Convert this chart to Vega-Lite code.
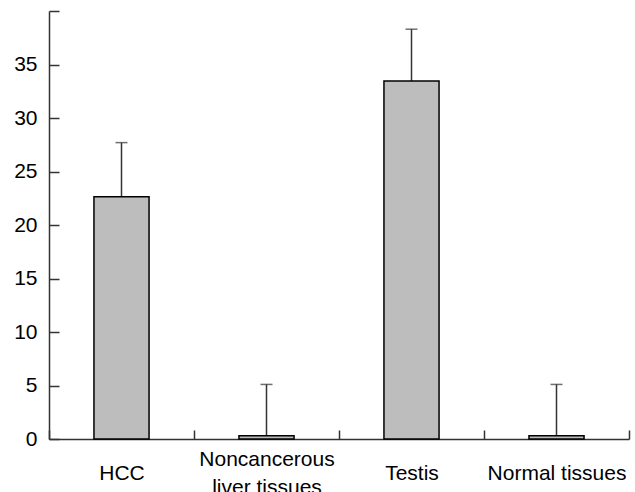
{
  "$schema": "https://vega.github.io/schema/vega-lite/v6.json",
  "width": 580,
  "height": 428,
  "autosize": {"type": "none"},
  "padding": {"left": 49, "top": 11, "right": 6, "bottom": 53},
  "background": "white",
  "config": {
    "view": {"stroke": null},
    "font": "Liberation Sans",
    "axisY": {
      "title": null, "grid": false, "values": [0, 5, 10, 15, 20, 25, 30, 35, 40],
      "labelExpr": "datum.value == 40 ? '' : datum.label",
      "tickSize": -10, "labelPadding": 22, "labelFontSize": 21, "labelColor": "#000",
      "domainColor": "#333", "tickColor": "#333", "domainWidth": 1.5, "tickWidth": 1.5
    },
    "axisX": {
      "title": null, "grid": false, "labelAngle": 0, "tickBand": "extent",
      "tickSize": -9, "labelFontSize": 21, "labelColor": "#000",
      "labelPadding": {"condition": {"test": "datum.value == 'Noncancerous liver tissues'", "value": 29}, "value": 43},
      "labelBaseline": "middle", "labelLineHeight": 28, "labelLimit": 0, "labelOverlap": false,
      "labelExpr": "datum.label == 'Noncancerous liver tissues' ? ['Noncancerous', 'liver tissues'] : datum.label",
      "domainColor": "#333", "tickColor": "#333", "domainWidth": 1.5, "tickWidth": 1.5
    }
  },
  "data": {
    "values": [
      {"tissue": "HCC", "mean": 22.65, "upper": 27.7},
      {"tissue": "Noncancerous liver tissues", "mean": 0.3, "upper": 5.1},
      {"tissue": "Testis", "mean": 33.45, "upper": 38.3},
      {"tissue": "Normal tissues", "mean": 0.3, "upper": 5.1}
    ]
  },
  "encoding": {
    "x": {"field": "tissue", "type": "nominal", "sort": null, "title": null,
          "scale": {"paddingInner": 0, "paddingOuter": 0}}
  },
  "layer": [
    {
      "mark": {"type": "rule", "color": "#333", "strokeWidth": 1.5},
      "encoding": {
        "y": {"field": "mean", "type": "quantitative", "title": null, "scale": {"domain": [0, 40]}},
        "y2": {"field": "upper"}
      }
    },
    {
      "mark": {"type": "tick", "orient": "horizontal", "size": 12, "thickness": 1.5, "color": "#333"},
      "encoding": {
        "y": {"field": "upper", "type": "quantitative", "title": null}
      }
    },
    {
      "mark": {"type": "bar", "width": {"band": 0.38}, "fill": "#bdbdbd", "stroke": "#000", "strokeWidth": 1.5},
      "encoding": {
        "y": {"field": "mean", "type": "quantitative", "title": null}
      }
    }
  ]
}
